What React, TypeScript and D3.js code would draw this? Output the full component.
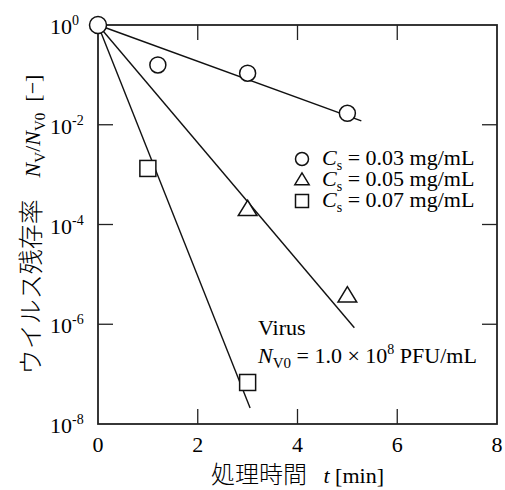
import * as d3 from 'd3';

// chart box (plot area is square: 8 min x 8 decades)
const WIDTH = 505,
  HEIGHT = 490;
const PLOT = { left: 98, right: 497, top: 25, bottom: 424 };

const SERIF = "'Liberation Serif', 'Times New Roman', serif";
const CJK = "'Noto Sans CJK JP', sans-serif";

// data
const startT = 0;
const startV = 1;
const circleT = [1.2, 3, 5];
const circleV = [0.158, 0.108, 0.017];
const triangleT = [3, 5];
const triangleV = [2.0e-4, 3.7e-6];
const squareT = [1, 3];
const squareV = [1.33e-3, 6.8e-8];

// end points of the fitted lines (all start at t=0, N/N0=1)
const fitEndT = [5.28, 5.14, 3.05];
const fitEndV = [1.2e-2, 8.5e-7, 2.1e-8];

const xTicks = [0, 2, 4, 6, 8];
const yTickExp = [0, -2, -4, -6, -8];
const legendConc = ['0.03', '0.05', '0.07'];
const legendShapes = ['circle', 'triangle', 'square'];

const Marker = ({ shape, cx, cy, size }) => {
  const common = { fill: 'white', stroke: '#111', strokeWidth: 1.5 };
  if (shape === 'circle') return <circle cx={cx} cy={cy} r={size / 2} {...common} />;
  if (shape === 'square')
    return <rect x={cx - size / 2} y={cy - size / 2} width={size} height={size} {...common} />;
  const h = size * 0.9;
  const w = size * 0.55;
  return (
    <path
      d={`M${cx},${cy - h * 0.6}L${cx - w},${cy + h * 0.4}L${cx + w},${cy + h * 0.4}Z`}
      {...common}
    />
  );
};

export default function App() {
  const xScale = d3.scaleLinear().domain([0, 8]).range([PLOT.left, PLOT.right]);
  const yScale = d3.scaleLog().domain([1e-8, 1]).range([PLOT.bottom, PLOT.top]);

  const line = d3
    .line()
    .x(d => xScale(d[0]))
    .y(d => yScale(d[1]));

  const fits = fitEndT.map((t, i) => (
    <path
      key={i}
      d={line([
        [startT, startV],
        [t, fitEndV[i]],
      ])}
      fill="none"
      stroke="#111"
      strokeWidth={1.4}
    />
  ));

  const tickLen = 15;
  const axisColor = '#222';

  const xTickMarks = xTicks.slice(1, -1).map(t => (
    <g key={t}>
      <line x1={xScale(t)} x2={xScale(t)} y1={PLOT.bottom} y2={PLOT.bottom - tickLen} stroke={axisColor} strokeWidth={1.3} />
      <line x1={xScale(t)} x2={xScale(t)} y1={PLOT.top} y2={PLOT.top + tickLen} stroke={axisColor} strokeWidth={1.3} />
    </g>
  ));

  const yTickMarks = yTickExp.slice(1, -1).map(e => {
    const y = yScale(Math.pow(10, e));
    return (
      <g key={e}>
        <line x1={PLOT.left} x2={PLOT.left + tickLen} y1={y} y2={y} stroke={axisColor} strokeWidth={1.3} />
        <line x1={PLOT.right} x2={PLOT.right - tickLen} y1={y} y2={y} stroke={axisColor} strokeWidth={1.3} />
      </g>
    );
  });

  const xLabels = xTicks.map(t => (
    <text key={t} x={xScale(t)} y={PLOT.bottom + 28} textAnchor="middle" fontSize={22} fontFamily={SERIF}>
      {t}
    </text>
  ));

  const yLabels = yTickExp.map(e => (
    <text key={e} x={50} y={yScale(Math.pow(10, e)) + 9} fontSize={22} fontFamily={SERIF}>
      10
      <tspan fontSize={14} dy={-9}>
        {e === 0 ? '0' : `-${-e}`}
      </tspan>
    </text>
  ));

  const legendRows = legendConc.map((c, i) => {
    const base = 165 + i * 21;
    return (
      <g key={c}>
        <Marker shape={legendShapes[i]} cx={302} cy={base - 6} size={13} />
        <text x={322} y={base} fontSize={22} fontFamily={SERIF} style={{ whiteSpace: 'pre' }}>
          <tspan fontStyle="italic">C</tspan>
          <tspan fontSize={14} dy={5}>s</tspan>
          <tspan dy={-5}>{` = ${c} mg/mL`}</tspan>
        </text>
      </g>
    );
  });

  return (
    <svg width={WIDTH} height={HEIGHT} style={{ position: 'absolute', left: 0, top: 0 }}>
      <rect width={WIDTH} height={HEIGHT} fill="white" />
      {fits}
      <rect
        x={PLOT.left}
        y={PLOT.top}
        width={PLOT.right - PLOT.left}
        height={PLOT.bottom - PLOT.top}
        fill="none"
        stroke={axisColor}
        strokeWidth={1.8}
      />
      {xTickMarks}
      {yTickMarks}
      {xLabels}
      {yLabels}

      {circleT.map((t, i) => (
        <Marker key={'c' + i} shape="circle" cx={xScale(t)} cy={yScale(circleV[i])} size={16} />
      ))}
      {triangleT.map((t, i) => (
        <Marker key={'t' + i} shape="triangle" cx={xScale(t)} cy={yScale(triangleV[i])} size={17} />
      ))}
      {squareT.map((t, i) => (
        <Marker key={'s' + i} shape="square" cx={xScale(t)} cy={yScale(squareV[i])} size={16} />
      ))}
      <Marker shape="circle" cx={xScale(startT)} cy={yScale(startV)} size={17} />

      {legendRows}

      <text x={258} y={335} fontSize={22} fontFamily={SERIF}>
        Virus
      </text>
      <text x={258} y={363} fontSize={22} fontFamily={SERIF} style={{ whiteSpace: 'pre' }}>
        <tspan fontStyle="italic">N</tspan>
        <tspan fontSize={15} dy={5}>V0</tspan>
        <tspan dy={-5}>{' = 1.0 × 10'}</tspan>
        <tspan fontSize={14} dy={-9}>8</tspan>
        <tspan dy={9}>{' PFU/mL'}</tspan>
      </text>

      <text x={(PLOT.left + PLOT.right) / 2} y={483} textAnchor="middle" fontSize={22} fontFamily={SERIF} style={{ whiteSpace: 'pre' }}>
        <tspan fontFamily={CJK} fontSize={24} fontWeight={300}>処理時間</tspan>
        <tspan>{'   '}</tspan>
        <tspan fontStyle="italic">t</tspan>
        <tspan>{' [min]'}</tspan>
      </text>

      <text
        transform={`translate(40, ${(PLOT.top + PLOT.bottom) / 2}) rotate(-90)`}
        textAnchor="middle"
        fontSize={22}
        fontFamily={SERIF}
        style={{ whiteSpace: 'pre' }}
      >
        <tspan fontFamily={CJK} fontSize={25} fontWeight={300}>ウイルス残存率</tspan>
        <tspan>{'    '}</tspan>
        <tspan fontStyle="italic">N</tspan>
        <tspan fontSize={15} dy={5}>V</tspan>
        <tspan dy={-5}>/</tspan>
        <tspan fontStyle="italic">N</tspan>
        <tspan fontSize={15} dy={5}>V0</tspan>
        <tspan dy={-5}>{'  [−]'}</tspan>
      </text>
    </svg>
  );
}
